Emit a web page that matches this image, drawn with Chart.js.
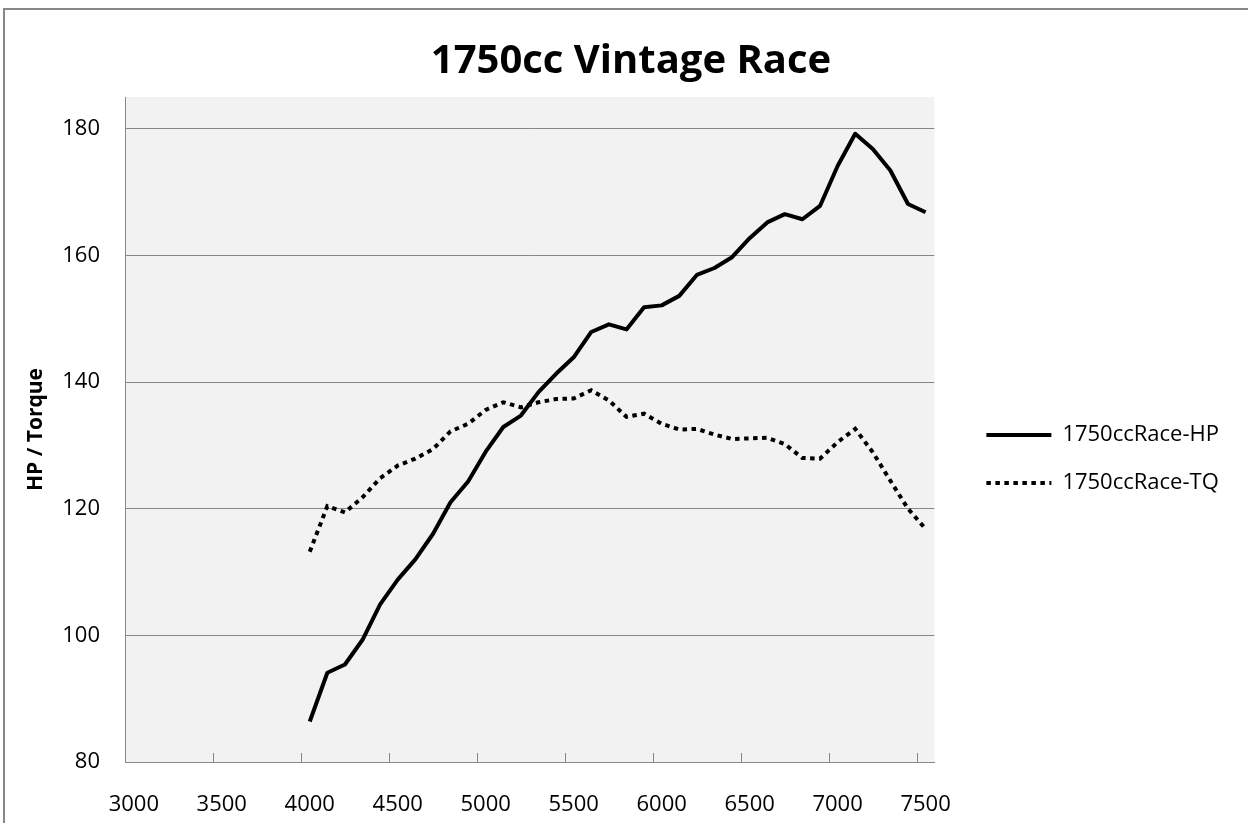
<!DOCTYPE html>
<html>
<head>
<meta charset="utf-8">
<title>1750cc Vintage Race</title>
<script src="https://cdn.jsdelivr.net/npm/chart.js@4"></script>
<style>
  html, body { margin: 0; padding: 0; background: #fff; overflow: hidden; }
  #frame { position: absolute; left: 3px; top: 8px; width: 1300px; height: 900px; border: 2px solid #878787; }
  #wrap { position: absolute; left: 0; top: 0; width: 1262px; height: 823px; }
</style>
</head>
<body>
<div id="frame"></div>
<div id="wrap"><canvas id="DynoChart"></canvas></div>
<script>
// rpm categories on the x axis (every 100 rpm)
const rpm = [3000, 3100, 3200, 3300, 3400, 3500, 3600, 3700, 3800, 3900,
  4000, 4100, 4200, 4300, 4400, 4500, 4600, 4700, 4800, 4900,
  5000, 5100, 5200, 5300, 5400, 5500, 5600, 5700, 5800, 5900,
  6000, 6100, 6200, 6300, 6400, 6500, 6600, 6700, 6800, 6900,
  7000, 7100, 7200, 7300, 7400, 7500];
const xTickLabels = [3000, 3500, 4000, 4500, 5000, 5500, 6000, 6500, 7000, 7500];
const yTicks = [80, 100, 120, 140, 160, 180];

// dyno run starts at 4000 rpm
const firstRpm = 4000;
const hp = [86.4, 94.1, 95.4, 99.3, 104.9, 108.8, 112.0, 116.0, 121.0, 124.3,
  129.0, 132.9, 134.7, 138.4, 141.3, 143.9, 147.9, 149.1, 148.3, 151.8,
  152.1, 153.6, 156.9, 158.0, 159.7, 162.7, 165.2, 166.5, 165.7, 167.8,
  174.1, 179.2, 176.8, 173.4, 168.1, 166.8];
const tq = [113.2, 120.4, 119.4, 121.8, 124.8, 126.8, 127.9, 129.4, 132.2, 133.4,
  135.6, 136.8, 136.0, 136.8, 137.3, 137.4, 138.7, 137.1, 134.5, 135.0,
  133.4, 132.5, 132.6, 131.7, 131.0, 131.1, 131.2, 130.2, 128.0, 127.9,
  130.5, 132.6, 128.9, 124.4, 120.0, 116.8];

const gridColor = '#878787';

function onRpm(values) {
  const lead = rpm.indexOf(firstRpm);
  return rpm.map((r, i) => (i >= lead ? values[i - lead] : null));
}

// grey plot area
const plotBg = {
  id: 'plotBg',
  beforeDraw(chart) {
    const a = chart.chartArea, ctx = chart.ctx;
    ctx.save();
    ctx.fillStyle = '#f2f2f2';
    ctx.fillRect(a.left, a.top, a.right - a.left, a.bottom - a.top);
    ctx.restore();
  }
};

// small tick marks between categories, pointing up into the plot
const innerTicks = {
  id: 'innerTicks',
  beforeDatasetsDraw(chart) {
    const x = chart.scales.x, ctx = chart.ctx;
    const half = (x.getPixelForValue(1) - x.getPixelForValue(0)) / 2;
    ctx.save();
    ctx.strokeStyle = gridColor;
    ctx.lineWidth = 1;
    rpm.forEach((r, i) => {
      if (i === 0 || !xTickLabels.includes(r)) return;
      const px = Math.round(x.getPixelForValue(i) - half) + 0.5;
      ctx.beginPath();
      ctx.moveTo(px, x.top);
      ctx.lineTo(px, x.top - 9);
      ctx.stroke();
    });
    ctx.restore();
  }
};

// empty side axes, only used to make room left and right of the legend
function spacer(w, weight) {
  return {
    type: 'linear',
    position: 'right',
    display: true,
    weight: weight,
    grid: { display: false },
    border: { display: false },
    ticks: { display: false },
    afterFit: function (s) { s.width = w; }
  };
}

function drawDynoChart() {
  const ctx = document.getElementById('DynoChart');
  Chart.defaults.font.family = "'Open Sans', sans-serif";
  Chart.defaults.color = '#000';

  new Chart(ctx, {
    type: 'line',
    data: {
      labels: rpm,
      datasets: [{
        label: '1750ccRace-HP',
        data: onRpm(hp),
        borderColor: '#000',
        backgroundColor: '#000',
        borderWidth: 4,
        borderJoinStyle: 'round',
        pointRadius: 0,
        tension: 0
      }, {
        label: '1750ccRace-TQ',
        data: onRpm(tq),
        borderColor: '#000',
        backgroundColor: '#000',
        borderWidth: 4,
        borderDash: [4.5, 4.5],
        pointRadius: 0,
        tension: 0
      }]
    },
    options: {
      responsive: true,
      maintainAspectRatio: false,
      animation: false,
      layout: { padding: 0 },
      scales: {
        x: {
          type: 'category',
          offset: true,
          grid: { display: false },
          border: { display: true, color: gridColor, width: 1 },
          ticks: {
            autoSkip: false,
            maxRotation: 0,
            padding: 22,
            font: { size: 22 },
            callback: function (val, idx) {
              return xTickLabels.includes(rpm[idx]) ? String(rpm[idx]) : '';
            }
          },
          afterFit: function (s) { s.height = 61; }
        },
        y: {
          min: 80,
          max: 185,
          grid: { color: gridColor, lineWidth: 1, drawTicks: false },
          border: { display: true, color: gridColor, width: 1 },
          ticks: { padding: 25, font: { size: 22 } },
          afterBuildTicks: function (s) { s.ticks = yTicks.map(v => ({ value: v })); },
          title: {
            display: true,
            text: 'HP / Torque',
            font: { size: 21, weight: 'bold' },
            padding: { top: 23, bottom: 0 }
          },
          afterFit: function (s) { s.width = 125; }
        },
        gapIn: spacer(26, 0),
        gapOut: spacer(33, 2000)
      },
      plugins: {
        title: {
          display: true,
          text: '1750cc Vintage Race',
          font: { size: 40, weight: 'bold' },
          color: '#000',
          padding: { top: 38, bottom: 11 }
        },
        legend: {
          position: 'right',
          fullSize: false,
          maxWidth: 330,
          title: { display: true, text: ' ', font: { size: 49 }, padding: 0 },
          labels: {
            usePointStyle: true,
            pointStyle: 'line',
            pointStyleWidth: 65,
            padding: 26,
            font: { size: 22 },
            color: '#000',
            generateLabels: function (chart) {
              const base = Chart.defaults.plugins.legend.labels.generateLabels(chart);
              return base.map((item, i) => Object.assign(item, {
                lineDash: chart.data.datasets[i].borderDash || [],
                lineWidth: 4,
                strokeStyle: '#000',
                lineCap: 'butt'
              }));
            }
          }
        },
        tooltip: { enabled: false }
      }
    },
    plugins: [plotBg, innerTicks]
  });
}

drawDynoChart();
</script>
</body>
</html>
